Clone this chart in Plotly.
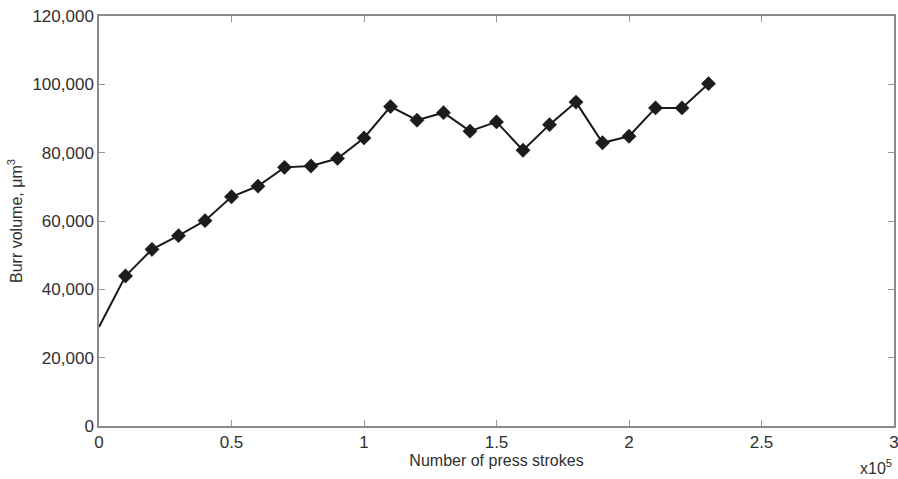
import plotly.graph_objects as go

strokes_e5 = [0.0, 0.1, 0.2, 0.3, 0.4, 0.5, 0.6, 0.7, 0.8, 0.9, 1.0, 1.1,
              1.2, 1.3, 1.4, 1.5, 1.6, 1.7, 1.8, 1.9, 2.0, 2.1, 2.2, 2.3]
burr_volume = [29000, 43900, 51700, 55700, 60100, 67100, 70200, 75700, 76100, 78300, 84300, 93500,
               89500, 91700, 86300, 89000, 80700, 88200, 94800, 82900, 84800, 93100, 93100, 100200]
x_ticks = [0, 0.5, 1, 1.5, 2, 2.5, 3]
x_tick_labels = ["0", "0.5", "1", "1.5", "2", "2.5", "3"]
y_ticks = [0, 20000, 40000, 60000, 80000, 100000, 120000]

FONT = "Liberation Sans, Arial, sans-serif"
TXT = "#303030"

fig = go.Figure()
fig.add_trace(go.Scatter(
    x=strokes_e5, y=burr_volume, mode="lines",
    line=dict(color="#1a1a1a", width=2),
    showlegend=False, cliponaxis=False, hoverinfo="skip",
))
fig.add_trace(go.Scatter(
    x=strokes_e5[1:], y=burr_volume[1:], mode="markers",
    marker=dict(symbol="diamond", size=11, color="#1c1c1c", opacity=1,
                line=dict(width=0.5, color="#1c1c1c")),
    showlegend=False, cliponaxis=False,
))

axis_common = dict(
    showgrid=False, zeroline=False, showline=True, linecolor="#8a8a8a", linewidth=1.5,
    mirror="ticks", ticks="inside", ticklen=6, tickcolor="#999999", tickwidth=1,
    automargin=False, ticklabeloverflow="allow",
    tickfont=dict(family=FONT, size=17, color=TXT),
)

fig.update_layout(
    width=898, height=479,
    margin=dict(l=99, r=4, t=16, b=53),
    paper_bgcolor="white", plot_bgcolor="white",
    font=dict(family=FONT, size=17, color=TXT),
    xaxis=dict(range=[0, 3], tickvals=x_ticks, ticktext=x_tick_labels,
               title=dict(text="Number of press strokes", standoff=2,
                          font=dict(size=16, color=TXT)),
               **axis_common),
    yaxis=dict(range=[0, 120000], tickvals=y_ticks, tickformat=",",
               title=dict(text="Burr volume, μm<sup>3</sup>", standoff=6,
                          font=dict(size=16, color=TXT)),
               **axis_common),
)

fig.add_annotation(
    text="x10<sup>5</sup>", xref="paper", yref="paper", x=1.0, y=0, xanchor="right",
    yanchor="top", yshift=-29, showarrow=False,
    font=dict(family=FONT, size=16, color=TXT),
)

fig.write_html("out.html", config={"displayModeBar": False},
               post_script="document.body.style.margin='0';document.body.style.overflow='hidden';")
